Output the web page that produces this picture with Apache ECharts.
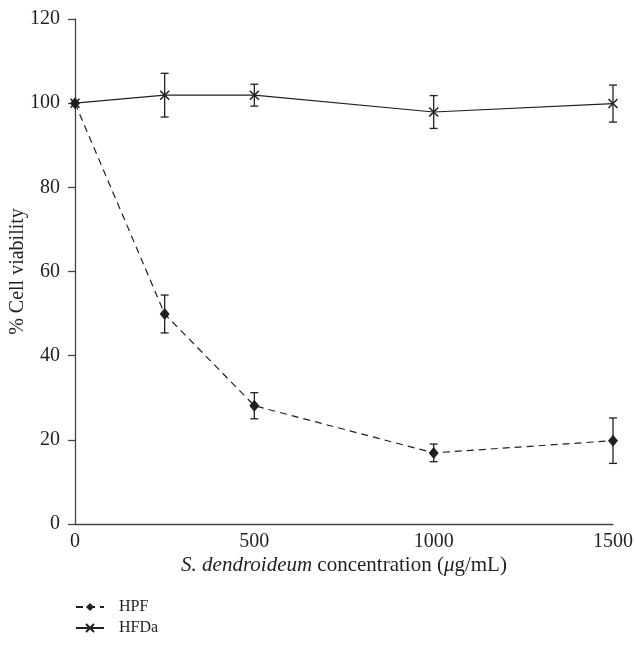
<!DOCTYPE html>
<html><head><meta charset="utf-8">
<script src="https://cdn.jsdelivr.net/npm/echarts@6/dist/echarts.min.js"></script>
<style>html,body{margin:0;padding:0;background:#fff}#c{width:635px;height:647px}</style>
</head><body><div id="c"></div>
<script>
const concentrations = [0, 250, 500, 1000, 1500];
const hpfMean = [100, 49.9, 28.1, 16.9, 19.8];
const hpfErr = [0, 4.5, 3.1, 2.1, 5.4];
const hfdaMean = [100, 101.9, 101.9, 97.9, 99.9];
const hfdaErr = [0, 5.2, 2.6, 3.9, 4.4];
const yTicks = [0, 20, 40, 60, 80, 100, 120];
const xTicks = [0, 500, 1000, 1500];

const INK = '#231f20';
const FONT = '"Liberation Serif", "DejaVu Serif", serif';

function pairs(xs, ys) { return xs.map((x, i) => [x, ys[i]]); }
function errData(xs, m, e) { return xs.map((x, i) => [x, m[i] - e[i], m[i] + e[i]]); }

function renderErr(params, api) {
  const x = api.value(0), lo = api.value(1), hi = api.value(2);
  if (hi - lo < 0.01) return null;
  const pt = api.coord([x, hi]), pb = api.coord([x, lo]);
  const w = 4;
  const st = { stroke: INK, lineWidth: 1.3 };
  return {
    type: 'group',
    children: [
      { type: 'line', shape: { x1: pt[0], y1: pt[1], x2: pb[0], y2: pb[1] }, style: st },
      { type: 'line', shape: { x1: pt[0] - w, y1: pt[1], x2: pt[0] + w, y2: pt[1] }, style: st },
      { type: 'line', shape: { x1: pb[0] - w, y1: pb[1], x2: pb[0] + w, y2: pb[1] }, style: st }
    ]
  };
}

const crossPath = 'path://M0,0L10,10M10,0L0,10';

const chart = echarts.init(document.getElementById('c'), null, { renderer: 'canvas' });
chart.setOption({
  animation: false,
  backgroundColor: '#fff',
  textStyle: { fontFamily: FONT, color: INK },
  grid: { left: 75, right: 22, top: 19, bottom: 123, containLabel: false, outerBoundsMode: 'none' },
  legend: {
    orient: 'vertical',
    left: 70,
    top: 594,
    itemWidth: 28,
    itemHeight: 10,
    itemGap: 5,
    textStyle: { fontFamily: FONT, fontSize: 16, color: INK, padding: [0, 0, 0, 10] },
    data: ['HPF', 'HFDa']
  },
  xAxis: {
    type: 'value',
    min: 0, max: 1500, interval: 500,
    axisLine: { show: true, lineStyle: { color: '#444', width: 1.3 } },
    axisTick: { show: false },
    splitLine: { show: false },
    axisLabel: {
      fontFamily: FONT, fontSize: 20, color: INK, margin: 8,
      customValues: xTicks,
      hideOverlap: false,
      formatter: v => String(v)
    },
    name: '{i|S. dendroideum} concentration ({i|μ}g/mL)',
    nameLocation: 'middle',
    nameGap: 31,
    nameMoveOverlap: false,
    nameTextStyle: {
      fontFamily: FONT, fontSize: 21, color: INK,
      rich: { i: { fontFamily: FONT, fontSize: 21, fontStyle: 'italic', color: INK } }
    }
  },
  yAxis: {
    type: 'value',
    min: 0, max: 120, interval: 20,
    axisLine: { show: true, lineStyle: { color: '#444', width: 1.3 } },
    axisTick: { show: true, inside: false, length: 7, lineStyle: { color: '#444', width: 1.3 } },
    splitLine: { show: false },
    axisLabel: {
      fontFamily: FONT, fontSize: 20, color: INK, margin: 15,
      customValues: yTicks
    },
    name: '% Cell viability',
    nameLocation: 'middle',
    nameGap: 47,
    nameMoveOverlap: false,
    nameTextStyle: { fontFamily: FONT, fontSize: 20, color: INK }
  },
  series: [
    {
      name: 'HPF',
      type: 'line',
      data: pairs(concentrations, hpfMean),
      symbol: 'diamond',
      symbolSize: [10, 12],
      lineStyle: { color: INK, width: 1.2, type: [7, 5] },
      itemStyle: { color: INK },
      z: 3
    },
    {
      name: 'HFDa',
      type: 'line',
      data: pairs(concentrations, hfdaMean),
      symbol: crossPath,
      symbolSize: 9,
      lineStyle: { color: INK, width: 1.2 },
      itemStyle: { color: 'rgba(0,0,0,0)', borderColor: INK, borderWidth: 1.5 },
      z: 3
    },
    {
      type: 'custom',
      renderItem: renderErr,
      data: errData(concentrations, hpfMean, hpfErr),
      encode: { x: 0, y: [1, 2] },
      clip: false,
      z: 4,
      silent: true
    },
    {
      type: 'custom',
      renderItem: renderErr,
      data: errData(concentrations, hfdaMean, hfdaErr),
      encode: { x: 0, y: [1, 2] },
      clip: false,
      z: 4,
      silent: true
    }
  ]
});
</script>
</body></html>
